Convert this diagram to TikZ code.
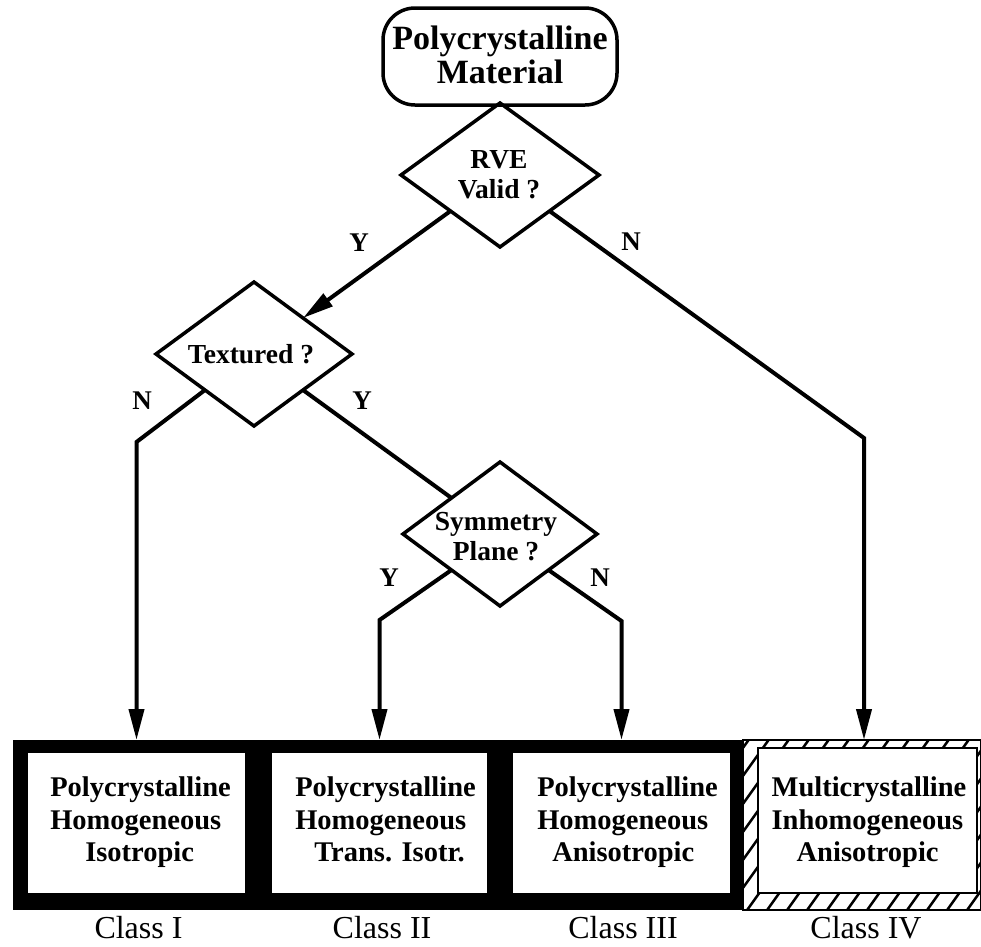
\documentclass[tikz,border=0pt]{standalone}
\usepackage{fontspec}
\setmainfont{Liberation Serif}
\usetikzlibrary{shapes.geometric,arrows.meta}

\begin{document}
\begin{tikzpicture}[x=1pt,y=-1pt,
  every node/.style={outer sep=0pt, inner sep=0pt},
  startbox/.style={draw, line width=3.5pt, rounded corners=32pt,
    minimum width=234pt, minimum height=97pt},
  decision/.style={draw, diamond, line width=3.5pt, minimum height=144pt},
  bigtext/.style={align=center, font=\fontsize{34}{34}\selectfont\bfseries},
  dtext/.style={align=center, font=\fontsize{27.5}{30}\selectfont\bfseries},
  yn/.style={font=\fontsize{27}{28}\selectfont\bfseries},
  classbox/.style={fill=white, minimum height=140pt},
  boxtext/.style={align=left, font=\fontsize{28.5}{32.5}\selectfont\bfseries},
  classlabel/.style={anchor=base, font=\fontsize{32}{34}\selectfont},
  link/.style={line width=4pt},
  arr/.style={line width=4pt, -{Triangle[length=31pt,width=15pt]}},
  hatch/.style={line width=2.5pt}
]
\useasboundingbox (0,0) rectangle (981,946);

% start box and decisions
\node[startbox] (mat) at (500,56.5) {};
\node[bigtext] (matT) at (500,55) {Polycrystalline\\Material};

\node[decision, minimum width=198pt] (rve) at (500,175) {};
\node[dtext] (rveT) at (499,175) {RVE\\Valid ?};

\node[decision, minimum width=196pt] (tex) at (254,354) {};
\node[dtext] (texT) at (251,354) {Textured ?};

\node[decision, minimum width=194pt] (sym) at (500,534) {};
\node[dtext] (symT) at (496,537) {Symmetry\\Plane ?};

% classes I--III on a black band
\node[fill=black, minimum width=730pt, minimum height=170pt, anchor=north west] (band) at (13,740) {};
\node[classbox, minimum width=217pt] (c1) at (136.5,823) {};
\node[classbox, minimum width=215pt] (c2) at (379.5,823) {};
\node[classbox, minimum width=217pt] (c3) at (621.5,823) {};

% class IV with a hatched frame
\node[minimum width=238pt, minimum height=170pt, anchor=north west] (h4) at (743,740) {};
\begin{scope}[even odd rule]
  \clip (743,740) rectangle (981,910) (758,748) rectangle (977,893);
  \foreach \x in {600,620,...,1000}
    \draw[hatch] (\x,920) -- ++(140,-196);
\end{scope}
\draw[line width=2pt] (h4.north west) rectangle (h4.south east);
\node[classbox, draw, line width=2.5pt, minimum width=219pt, minimum height=145pt,
      anchor=north west] (c4) at (758,748) {};

% class contents
\node[boxtext] (t1) at (140.5,822.5) {Polycrystalline\\Homogeneous\\\hspace*{35pt}Isotropic};
\node[boxtext] (t2) at (385.5,822.5) {Polycrystalline\\Homogeneous\\\hspace*{19pt}Trans. Isotr.\vphantom{p}};
\node[boxtext] (t3) at (627.5,822.5) {Polycrystalline\\Homogeneous\\\hspace*{15pt}Anisotropic};
\node[boxtext] (t4) at (869,822.5) {Multicrystalline\\Inhomogeneous\\\hspace*{25pt}Anisotropic};

\node[classlabel] (l1) at (138.5,938) {Class I};
\node[classlabel] (l2) at (382,938) {Class II};
\node[classlabel] (l3) at (623,938) {Class III};
\node[classlabel] (l4) at (866,938) {Class IV};

% bends of the connectors
\coordinate (b1) at (136.5,442);
\coordinate (b2) at (379.5,620);
\coordinate (b3) at (621.5,621);
\coordinate (b4) at (864,438);

% connectors
\draw[link] (mat.south) -- (rve.north);
\draw[arr] (rve.south west) -- (tex.north east);
\draw[arr] (rve.south east) -- (b4) -- (b4 |- h4.north);
\draw[arr] (tex.south west) -- (b1) -- (b1 |- band.north);
\draw[link] (tex.south east) -- (sym.north west);
\draw[arr] (sym.south west) -- (b2) -- (b2 |- band.north);
\draw[arr] (sym.south east) -- (b3) -- (b3 |- band.north);

% branch labels
\node[yn] (y1) at (359,243) {Y};
\node[yn] (n1) at (631,242) {N};
\node[yn] (n2) at (142,401) {N};
\node[yn] (y2) at (362,401) {Y};
\node[yn] (y3) at (389,578) {Y};
\node[yn] (n3) at (600,578) {N};
\end{tikzpicture}
\end{document}
